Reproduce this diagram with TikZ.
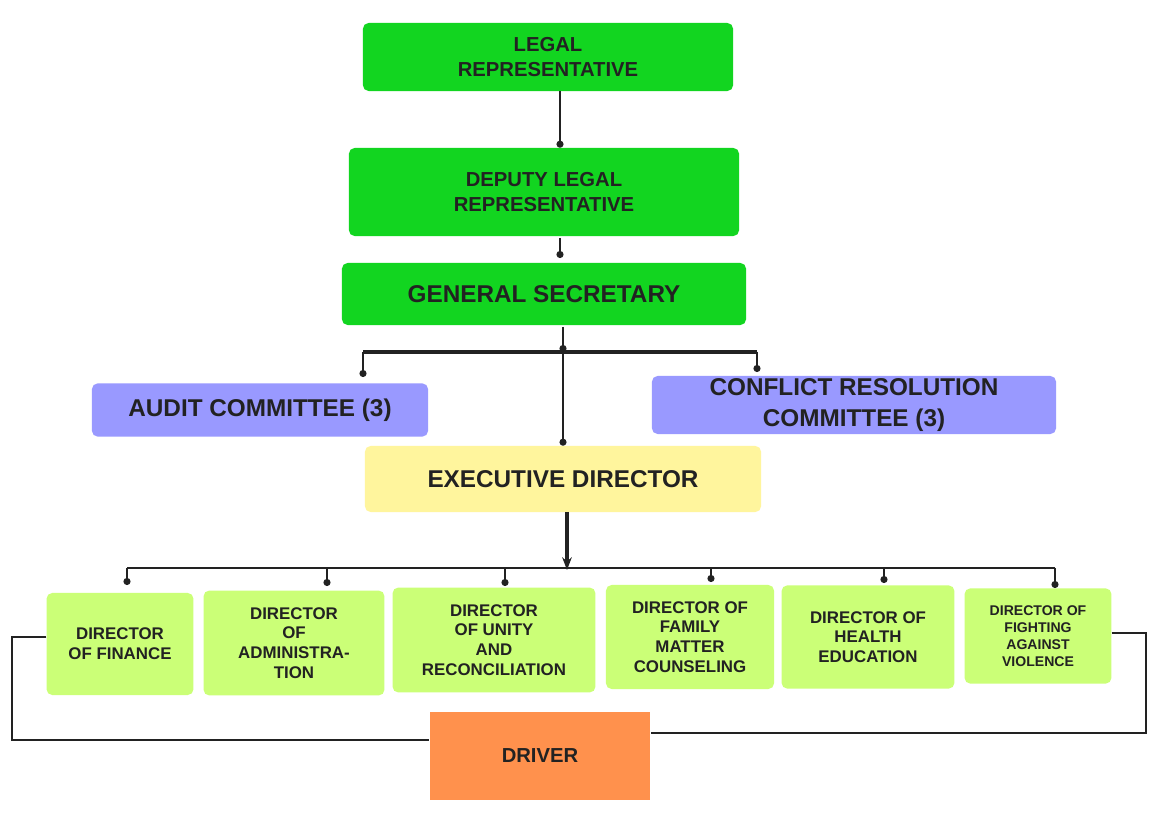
\documentclass[tikz,border=0pt]{standalone}
\usepackage{fontspec}
\setmainfont{Liberation Sans}
\usetikzlibrary{arrows.meta}
\definecolor{topgreen}{HTML}{12D520}
\definecolor{committee}{HTML}{9999FF}
\definecolor{execyellow}{HTML}{FFF59D}
\definecolor{dirgreen}{HTML}{CBFF77}
\definecolor{driverorange}{HTML}{FF914D}
\definecolor{ink}{HTML}{222222}
\tikzset{
  box/.style={rounded corners=4pt, text=ink, font=\bfseries, align=center, inner sep=0pt},
  director/.style={box, fill=dirgreen, font=\large\bfseries},
  link/.style={draw=ink, line width=1.2pt, -{Circle[length=5pt]}},
  plain/.style={draw=ink, line width=1.2pt},
}
\begin{document}
\begin{tikzpicture}[x=0.025cm, y=-0.025cm]
    % Background
    \fill[white] (0,0) rectangle (1159,819);

    % Top chain
    \node[box, fill=topgreen, minimum width=9.25cm, minimum height=1.7cm, font=\Large\bfseries]
      (legal) at (548,57) {LEGAL\\REPRESENTATIVE};
    \node[box, fill=topgreen, minimum width=9.75cm, minimum height=2.2cm, font=\Large\bfseries]
      (deputy) at (544,192) {DEPUTY LEGAL\\REPRESENTATIVE};
    \node[box, fill=topgreen, minimum width=10.1cm, minimum height=1.55cm, font=\LARGE\bfseries]
      (general) at (544,294) {GENERAL SECRETARY};

    % Committees
    \node[box, fill=committee, minimum width=8.4cm, minimum height=1.33cm, font=\LARGE\bfseries]
      (audit) at (260,410) {AUDIT COMMITTEE (3)};
    \node[box, fill=committee, minimum width=10.1cm, minimum height=1.45cm, font=\LARGE\bfseries]
      (conflict) at (854,405) {CONFLICT RESOLUTION\\COMMITTEE (3)};
    \node[box, fill=execyellow, minimum width=9.9cm, minimum height=1.65cm, font=\LARGE\bfseries]
      (exec) at (563,479) {EXECUTIVE DIRECTOR};

    % Directors
    \node[director, minimum width=3.67cm, minimum height=2.55cm] (fin) at (120,644) {DIRECTOR\\OF FINANCE};
    \node[director, minimum width=4.52cm, minimum height=2.62cm] (adm) at (294,643) {DIRECTOR\\OF\\ADMINISTRA-\\TION};
    \node[director, minimum width=5.07cm, minimum height=2.62cm] (uni) at (494,640) {DIRECTOR\\OF UNITY\\AND\\RECONCILIATION};
    \node[director, minimum width=4.2cm, minimum height=2.6cm] (fam) at (690,637) {DIRECTOR OF\\FAMILY\\MATTER\\COUNSELING};
    \node[director, minimum width=4.32cm, minimum height=2.58cm] (hea) at (868,637) {DIRECTOR OF\\HEALTH\\EDUCATION};
    \node[director, minimum width=3.67cm, minimum height=2.38cm, font=\bfseries] (fig) at (1038,636) {DIRECTOR OF\\FIGHTING\\AGAINST\\VIOLENCE};

    % Driver
    \node[box, fill=driverorange, rounded corners=0pt, minimum width=5.52cm, minimum height=2.18cm,
      font=\Large\bfseries] (driver) at (540,756) {DRIVER};

    % Connectors
    \coordinate (l1) at (560,91);
    \draw[link] (l1) -- (l1 |- deputy.north);
    \coordinate (d1) at (560,238);
    \draw[link] (d1) -- (560,258);
    \coordinate (g1) at (563,327);
    \coordinate (bar) at (563,352);
    \draw[link] (g1) -- (bar);
    \draw[plain, line width=2.2pt] (363,352) -- (757,352);
    \draw[link] (363,352) -- (363,377);
    \draw[link] (757,352) -- (757,372);
    \draw[link] (bar) -- (bar |- exec.north);
    \coordinate (e1) at (567,512);
    \draw[draw=ink, line width=2.5pt, -{Stealth[length=9pt]}] (e1) -- (567,570);
    \draw[plain] (127,568) -- (1055,568);
    \foreach \x/\y in {127/585, 327/586, 505/586, 711/582, 884/583, 1055/588}
        \draw[link] (\x,568) -- (\x,\y);
    \coordinate (lb) at (12,740);
    \coordinate (lt) at (12,637);
    \coordinate (rb) at (1146,733);
    \coordinate (rt) at (1146,633);
    \draw[plain, line width=0.8pt] (fin.west |- lt) -- (lt) -- (lb) -- (lb -| driver.west);
    \draw[plain, line width=0.8pt] (fig.east |- rt) -- (rt) -- (rb) -- (rb -| driver.east);
\end{tikzpicture}
\end{document}
